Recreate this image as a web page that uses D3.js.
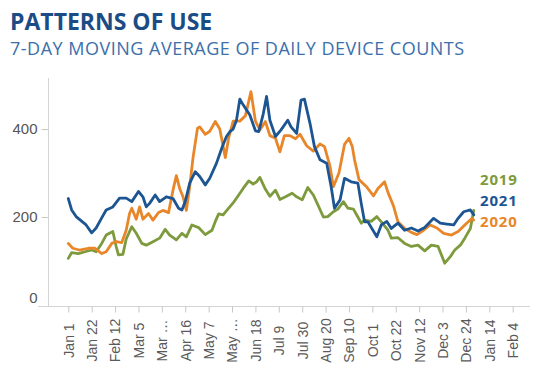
<!DOCTYPE html>
<html>
<head>
<meta charset="utf-8">
<script src="https://cdn.jsdelivr.net/npm/d3@7"></script>
<style>
  html, body { margin: 0; padding: 0; background: #ffffff; }
  svg { display: block; }
</style>
</head>
<body>
<svg id="chart" width="551" height="375"></svg>
<script>
// Day-of-year offsets (from Jan 1) and 7-day moving averages of daily device counts
const days2019 = [0,3,9,15,21,25,30,34,40,43,45,49,52,57,61,66,70,76,82,87,91,97,102,106,111,117,123,129,132,135,139,144,148,153,157,162,166,169,172,177,181,186,190,195,201,205,210,215,220,224,229,233,238,242,247,251,256,260,263,266,272,277,281,287,290,296,302,308,314,320,326,332,338,343,347,352,356,361,364];
const values2019 = [106,119,117,121,125,121,140,159,167,133,114,115,150,178,163,140,136,144,152,172,159,148,163,155,182,176,160,170,190,207,205,220,232,250,265,282,275,280,290,263,247,261,240,246,254,246,239,267,250,228,200,201,212,218,235,220,218,200,186,193,190,201,189,170,152,153,140,133,136,123,136,133,95,110,125,136,152,174,215];

const days2020 = [0,4,10,18,24,30,34,39,43,48,52,55,57,61,64,67,72,76,81,85,90,94,97,100,103,106,109,112,116,118,123,127,132,136,141,144,148,154,159,164,168,172,177,181,186,190,194,199,204,208,214,220,226,230,235,238,243,248,252,255,257,261,268,274,278,284,287,292,296,302,308,313,319,325,331,337,344,350,356,362,364];
const values2020 = [140,129,125,129,129,117,121,140,144,142,170,208,220,195,223,195,208,193,210,215,210,261,294,265,246,215,270,335,402,405,388,395,417,400,335,380,418,418,430,485,418,398,417,385,379,348,385,385,378,388,362,350,366,360,315,269,300,365,379,360,330,285,268,248,265,280,256,225,189,174,165,160,170,182,175,163,159,167,182,196,193];

const days2021 = [0,3,7,16,21,25,30,34,40,46,52,57,63,67,70,73,78,82,88,94,99,102,105,109,114,118,123,127,133,138,142,145,148,151,154,157,163,168,171,175,178,181,186,191,197,200,205,209,212,217,221,226,232,236,239,244,248,254,260,263,266,269,277,281,286,290,296,302,308,314,320,328,334,340,346,350,355,361,364];
const values2021 = [242,216,201,182,164,175,198,216,223,243,243,235,258,246,223,231,250,235,246,242,220,216,235,277,303,292,273,288,322,358,383,394,400,420,468,455,432,396,394,434,474,420,383,398,420,405,390,466,468,413,360,330,322,269,220,239,288,280,277,231,189,189,155,182,190,174,186,170,175,168,176,197,186,184,182,197,212,216,205];

const seriesNames = ["2019", "2021", "2020"];
const seriesColors = ["#7d9a3c", "#1c5592", "#e8862a"];

const yTicks = [0, 200, 400];
const xTickLabels = ["Jan 1","Jan 22","Feb 12","Mar 5","Mar \u2026","Apr 16","May 7","May \u2026","Jun 18","Jul 9","Jul 30","Aug 20","Sep 10","Oct 1","Oct 22","Nov 12","Dec 3","Dec 24","Jan 14","Feb 4"];

const titleText = "PATTERNS OF USE";
const subtitleText = "7-DAY MOVING AVERAGE OF DAILY DEVICE COUNTS";

const svg = d3.select("#chart");
const dayToDate = d => new Date(Date.UTC(2019, 0, 1 + d));

// Scales: one calendar year of days on x, counts on y
const x = d3.scaleUtc()
  .domain([dayToDate(0), dayToDate(399)])
  .range([68.3, 512.7]);
const y = d3.scaleLinear().domain([0, 516]).range([305, 78]);

// Title block
svg.append("text")
  .attr("x", 10).attr("y", 29.5)
  .attr("font-family", "'Open Sans', sans-serif")
  .attr("font-weight", 700)
  .attr("font-size", 23)
  .attr("fill", "#1c4c86")
  .text(titleText);
svg.append("text")
  .attr("x", 10).attr("y", 55)
  .attr("font-family", "'Open Sans', sans-serif")
  .attr("font-size", 18)
  .attr("letter-spacing", 0.5)
  .attr("fill", "#3b70aa")
  .text(subtitleText);

// Horizontal axis line across the pane
svg.append("line")
  .attr("x1", 38).attr("x2", 530)
  .attr("y1", y(0) + 1.5).attr("y2", y(0) + 1.5)
  .attr("stroke", "#d4d4d4").attr("stroke-width", 1);

// Y axis
const yAxis = svg.append("g")
  .attr("transform", "translate(48.5,0)")
  .call(d3.axisLeft(y).tickValues(yTicks).tickSize(7).tickPadding(4).tickFormat(d3.format("d")));
yAxis.select(".domain").attr("stroke", "#d4d4d4").attr("d", `M0,${y.range()[1]}V${y(0) + 1.5}`);
yAxis.selectAll(".tick line").attr("stroke", "#c8c8c8");
yAxis.selectAll(".tick text")
  .attr("font-family", "'Liberation Sans', Arial, sans-serif")
  .attr("font-size", 15)
  .attr("fill", "#555555");
yAxis.selectAll(".tick").filter(d => d === 0).select("line").remove();
yAxis.selectAll(".tick").filter(d => d === 0).select("text").attr("dy", "-0.2em");

// X axis with 21-day ticks, labels rotated and centred under each tick
const xTickDates = xTickLabels.map((_, i) => dayToDate(i * 21));
const xAxis = svg.append("g")
  .attr("transform", `translate(0,${y(0) + 1.5})`)
  .call(d3.axisBottom(x).tickValues(xTickDates).tickSize(6)
    .tickFormat((d, i) => xTickLabels[i]));
xAxis.select(".domain").remove();
xAxis.selectAll(".tick line").attr("stroke", "#c8c8c8");
xAxis.selectAll(".tick text")
  .attr("font-family", "'Liberation Sans', Arial, sans-serif")
  .attr("font-size", 14)
  .attr("fill", "#5a5a5a")
  .attr("text-anchor", "middle")
  .attr("dy", "0.35em")
  .attr("transform", "translate(0,34) rotate(-90)")
  .attr("x", 0).attr("y", 0);

// Lines
const seriesData = [
  days2019.map((d, i) => ({ date: dayToDate(d), value: values2019[i] })),
  days2021.map((d, i) => ({ date: dayToDate(d), value: values2021[i] })),
  days2020.map((d, i) => ({ date: dayToDate(d), value: values2020[i] }))
];
const line = d3.line().x(d => x(d.date)).y(d => y(d.value));
const drawOrder = [0, 2, 1];
drawOrder.forEach(i => {
  svg.append("path")
    .datum(seriesData[i])
    .attr("fill", "none")
    .attr("stroke", seriesColors[i])
    .attr("stroke-width", 2.8)
    .attr("stroke-linejoin", "round")
    .attr("stroke-linecap", "round")
    .attr("d", line);
});

// End-of-line series labels
const labelY = [185, 206, 227];
seriesNames.forEach((name, i) => {
  svg.append("text")
    .attr("x", 480).attr("y", labelY[i])
    .attr("font-family", "'Open Sans', sans-serif")
    .attr("font-weight", 700)
    .attr("font-size", 15)
    .attr("letter-spacing", 0.8)
    .attr("fill", seriesColors[i])
    .text(name);
});
</script>
</body>
</html>
